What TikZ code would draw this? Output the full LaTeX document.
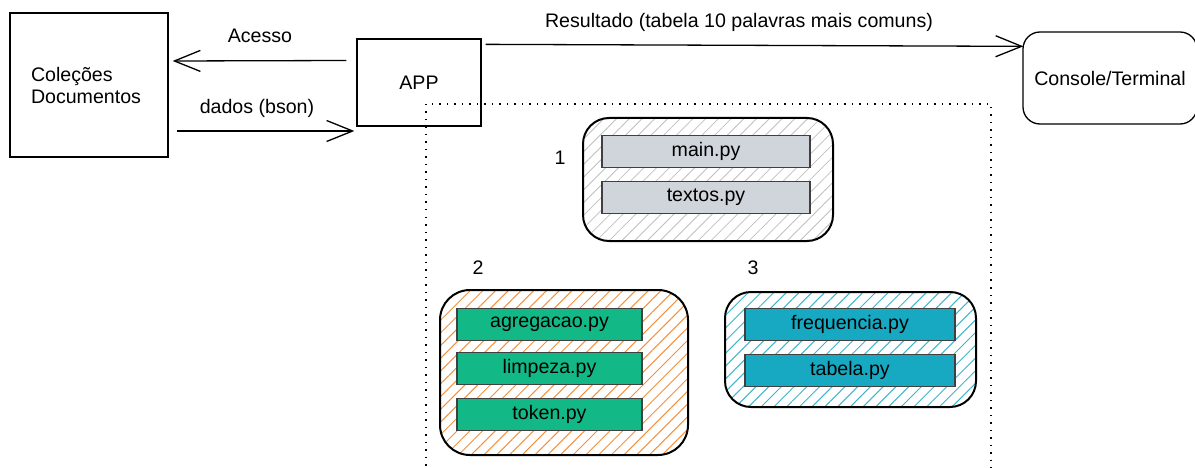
\documentclass[tikz,border=0pt]{standalone}
\usepackage{fontspec}
\setmainfont{Liberation Sans}
\usetikzlibrary{arrows.meta,patterns.meta}

\definecolor{cinza}{HTML}{D0D4DB}
\definecolor{verde}{HTML}{12B886}
\definecolor{azul}{HTML}{17A9C1}
\definecolor{laranja}{HTML}{F5903A}

\begin{document}
\begin{tikzpicture}[x=1pt,y=-1pt,->,>={Straight Barb[length=26pt,width=21pt]},
        line width=1.3pt,node distance=46pt,
        font=\fontsize{19.6}{22}\selectfont,
        caixa/.style={draw,rectangle,inner sep=0pt},
        grupo/.style={draw,line width=2pt,rounded corners=26pt,inner sep=0pt},
        arquivo/.style={draw=black!75,line width=1.2pt,minimum width=208pt,
            minimum height=32pt,inner sep=0pt}]

    \useasboundingbox (0,0) rectangle (1195,468);

    \node[caixa,minimum width=158pt,minimum height=144pt,text width=116pt,
        inner xsep=21pt,align=left] (col) at (89,85) {Coleções\\Documentos};
    \node[caixa,minimum width=124pt,minimum height=87pt] (app) at (419,82.5) {APP};
    \node[caixa,rounded corners=17pt,minimum width=174pt,minimum height=92pt] (console)
        at (1110,78) {Console/Terminal};

    \draw ([xshift=-10pt,yshift=22pt]app.west) -- ([xshift=4pt,yshift=24pt]col.east);
    \draw ([xshift=8pt,yshift=-46pt]col.east) -- ([xshift=-2pt,yshift=-48.5pt]app.west);
    \draw ([xshift=4pt,yshift=-6pt]app.north east) -- ([xshift=1pt,yshift=-15pt]console.north west);

    \node (acesso) at (260,36) {Acesso};
    \node (dados) at (257,108) {dados (bson)};
    \node (resultado) at (739,22) {Resultado (tabela 10 palavras mais comuns)};

    % area dos modulos
    \draw[-,line width=1.5pt,dash pattern=on 1.5pt off 6pt] (426,104) rectangle (991,480);

    % grupo 1
    \node[grupo,pattern={Lines[angle=45,distance=9pt,line width=0.8pt]},pattern color=black!25,
        minimum width=250pt,minimum height=123pt] (g1) at (708,179.5) {};
    \node (n1) at (560,158) {1};
    \node[arquivo,fill=cinza] (main) at (706,151.5) {main.py};
    \node[arquivo,fill=cinza] (textos) [below of=main] {textos.py};

    % grupo 2
    \node[grupo,pattern={Lines[angle=45,distance=9pt,line width=1pt]},pattern color=laranja,
        minimum width=248pt,minimum height=165pt,rounded corners=30pt] (g2) at (564,372.5) {};
    \node (n2) at (478,268) {2};
    \node[arquivo,fill=verde,minimum width=185pt] (agregacao) at (549.5,324.5) {agregacao.py};
    \node[arquivo,fill=verde,minimum width=185pt] (limpeza) [below of=agregacao,node distance=44pt] {limpeza.py};
    \node[arquivo,fill=verde,minimum width=185pt] (token) [below of=limpeza] {token.py};

    % grupo 3
    \node[grupo,pattern={Lines[angle=45,distance=9pt,line width=1pt]},pattern color=azul!85,
        minimum width=251pt,minimum height=115pt] (g3) at (850.5,349.5) {};
    \node (n3) at (753,268) {3};
    \node[arquivo,fill=azul,minimum width=210pt] (frequencia) at (850,324.5) {frequencia.py};
    \node[arquivo,fill=azul,minimum width=210pt] (tabela) [below of=frequencia] {tabela.py};

\end{tikzpicture}
\end{document}
